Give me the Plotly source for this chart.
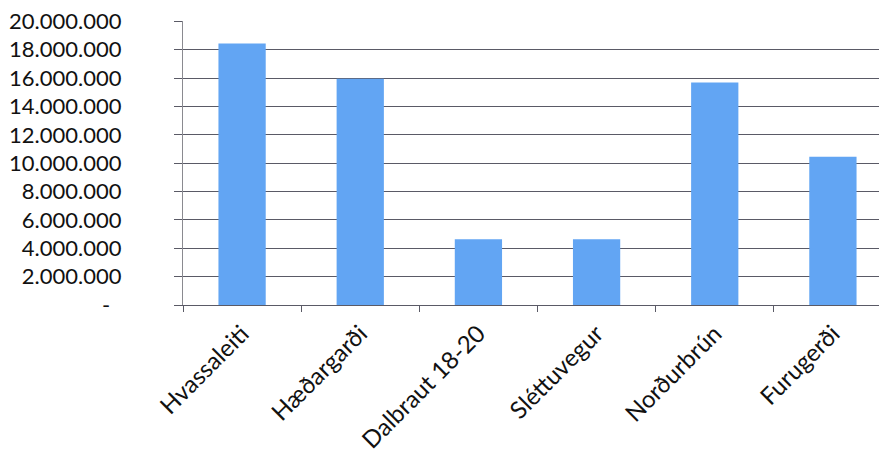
import plotly.graph_objects as go

categories = ["Hvassaleiti", "Hæðargarði", "Dalbraut 18-20", "Sléttuvegur", "Norðurbrún", "Furugerði"]
values = [18450000, 15950000, 4640000, 4640000, 15690000, 10460000]
tick_values = [0, 2000000, 4000000, 6000000, 8000000, 10000000, 12000000, 14000000, 16000000, 18000000, 20000000]
tick_labels = ["-\u00a0\u00a0", "2.000.000", "4.000.000", "6.000.000", "8.000.000", "10.000.000",
               "12.000.000", "14.000.000", "16.000.000", "18.000.000", "20.000.000"]

fig = go.Figure(go.Bar(x=categories, y=values, marker=dict(color="#62a5f3", line=dict(width=0))))

fig.update_layout(
    width=887, height=454,
    margin=dict(l=175, r=3, t=13, b=157, autoexpand=False),
    paper_bgcolor="white", plot_bgcolor="white",
    bargap=0.6, showlegend=False,
    font=dict(family="Lato, Open Sans, sans-serif", size=22, color="#111111"),
)
fig.update_yaxes(
    range=[0, 20030000], tickvals=tick_values, ticktext=tick_labels,
    showgrid=True, gridcolor="#5a5a66", gridwidth=1.3,
    showline=True, linecolor="#8a8a90", linewidth=1.3,
    ticks="outside", ticklen=8, tickcolor="#5a5a66", ticklabelstandoff=48,
    ticklabeloverflow="allow",
    zeroline=False, automargin=False,
    tickfont=dict(family="Lato, Open Sans, sans-serif", size=22, color="#111111"),
)
fig.update_xaxes(
    tickangle=-45, showline=True, linecolor="#5a5a66", linewidth=1.3,
    ticks="outside", tickson="boundaries", ticklen=6, tickcolor="#5a5a66",
    showgrid=False, automargin=False, ticklabelstandoff=4,
    ticklabeloverflow="allow",
    tickfont=dict(family="Lato, Open Sans, sans-serif", size=24, color="#111111"),
)
fig.write_html("out.html")
